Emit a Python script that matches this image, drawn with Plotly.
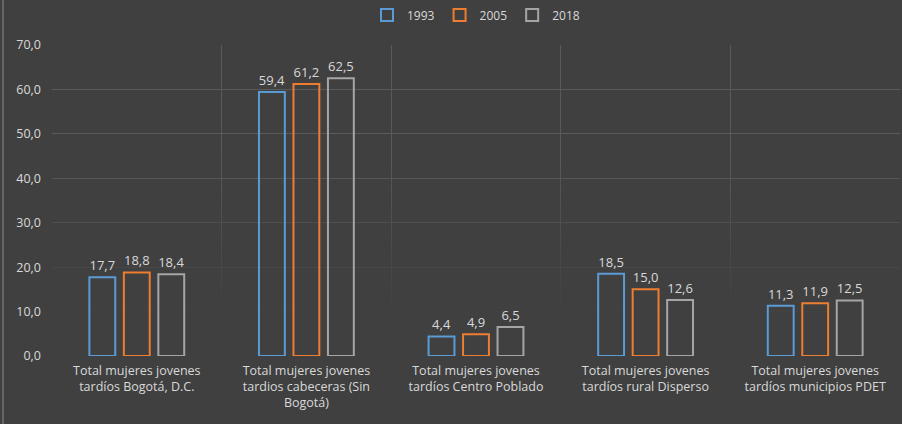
import plotly.graph_objects as go

categories = [
    "Total mujeres jovenes<br>tardíos Bogotá, D.C.",
    "Total mujeres jovenes<br>tardios cabeceras (Sin<br>Bogotá)",
    "Total mujeres jovenes<br>tardíos Centro Poblado",
    "Total mujeres jovenes<br>tardíos rural Disperso",
    "Total mujeres jovenes<br>tardíos municipios PDET",
]
years = ["1993", "2005", "2018"]
v1993 = [17.7, 59.4, 4.4, 18.5, 11.3]
v2005 = [18.8, 61.2, 4.9, 15.0, 11.9]
v2018 = [18.4, 62.5, 6.5, 12.6, 12.5]
colors = ["#5B9BD5", "#ED7D31", "#A5A5A5"]

BG = "#404040"
TXT = "#D9D9D9"
FONT = "Open Sans"

xpos = list(range(len(categories)))
fig = go.Figure()

# fade the gridlines towards the bottom, like the original chart (drawn under the bars)
fig.add_trace(
    go.Scatter(
        x=[-0.5, 4.5, 4.5, -0.5, -0.5],
        y=[0, 0, 45, 45, 0],
        mode="none",
        fill="toself",
        fillgradient=dict(
            type="vertical",
            start=0,
            stop=45,
            colorscale=[[0, BG], [0.3, "rgba(64,64,64,0.9)"], [1, "rgba(64,64,64,0)"]],
        ),
        hoverinfo="skip",
        showlegend=False,
    )
)

for name, vals, col in zip(years, [v1993, v2005, v2018], colors):
    fig.add_trace(
        go.Bar(
            x=xpos,
            y=vals,
            xaxis="x2",
            yaxis="y2",
            name=name,
            marker=dict(color="rgba(0,0,0,0)", line=dict(color=col, width=2)),
            text=[f"{v:.1f}".replace(".", ",") for v in vals],
            textposition="outside",
            constraintext="none",
            textfont=dict(color=TXT, size=13, family=FONT),
            cliponaxis=False,
        )
    )

fig.update_layout(
    width=902,
    height=424,
    paper_bgcolor=BG,
    plot_bgcolor=BG,
    font=dict(family=FONT, color=TXT, size=12),
    separators=",.",
    barmode="group",
    bargap=0.39,
    bargroupgap=0.25,
    showlegend=True,
    margin=dict(l=52, r=2, t=45, b=68, autoexpand=False),
    legend=dict(
        orientation="h",
        x=0.5,
        xanchor="center",
        y=1 - 15 / 424,
        yanchor="middle",
        yref="container",
        font=dict(size=12, color=TXT, family=FONT),
        itemwidth=30,
        bgcolor="rgba(0,0,0,0)",
    ),
    xaxis=dict(
        range=[-0.5, 4.5],
        tickvals=xpos,
        ticktext=categories,
        showgrid=False,
        zeroline=False,
        showline=False,
        ticks="",
        automargin=False,
        ticklabelstandoff=5,
        tickfont=dict(color=TXT, size=12.5, family=FONT),
        minor=dict(tick0=0.5, dtick=1, showgrid=True, gridcolor="#5a5a5a", gridwidth=1, ticks=""),
    ),
    yaxis=dict(
        range=[0, 70],
        dtick=10,
        tickformat=".1f",
        showgrid=True,
        gridcolor="#5a5a5a",
        gridwidth=1,
        zeroline=False,
        showline=False,
        ticks="",
        automargin=False,
        ticklabelstandoff=10,
        tickfont=dict(color=TXT, size=12.5, family=FONT),
    ),
    xaxis2=dict(
        overlaying="x", range=[-0.5, 4.5], visible=False, automargin=False,
    ),
    yaxis2=dict(
        overlaying="y", range=[0, 70], visible=False, automargin=False,
    ),
)

# thin light border at the left edge of the chart
fig.add_shape(
    type="line", xref="paper", yref="paper",
    x0=(3 - 52) / 848, x1=(3 - 52) / 848, y0=-0.3, y1=1.2,
    line=dict(color="#8a8a8a", width=1),
)

fig.write_html(
    "out.html",
    config={"displayModeBar": False},
    post_script="document.body.style.margin='0';",
)
